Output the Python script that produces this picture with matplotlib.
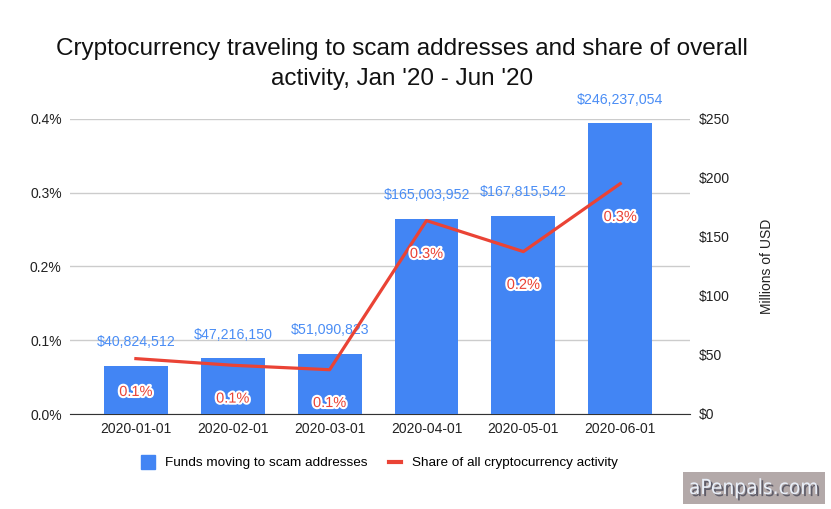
import matplotlib
matplotlib.use("Agg")
import matplotlib.pyplot as plt
import matplotlib.patheffects as pe
from matplotlib.lines import Line2D
from matplotlib import font_manager

categories = ["2020-01-01", "2020-02-01", "2020-03-01", "2020-04-01", "2020-05-01", "2020-06-01"]
funds_usd = [40824512, 47216150, 51090823, 165003952, 167815542, 246237054]
share_pct = [0.075, 0.066, 0.060, 0.262, 0.220, 0.312]
share_labels = ["0.1%", "0.1%", "0.1%", "0.3%", "0.2%", "0.3%"]
left_ticks = [0.0, 0.1, 0.2, 0.3, 0.4]
right_ticks = [0, 50, 100, 150, 200, 250]

title = "Cryptocurrency traveling to scam addresses and share of overall\nactivity, Jan '20 - Jun '20"

names = {f.name for f in font_manager.fontManager.ttflist}
title_font = "Liberation Sans Narrow" if "Liberation Sans Narrow" in names else "Liberation Sans"
plt.rcParams['font.family'] = ['Liberation Sans', 'DejaVu Sans']

BLUE = "#4285F4"
RED = "#EA4335"
LBLUE = "#4a8df5"

fig = plt.figure(figsize=(8.31, 5.09), dpi=100)
ax = fig.add_axes([70/831, 1-414/509, 620/831, (414-118.7)/509])
ax2 = ax.twinx()

x = list(range(len(categories)))
funds_m = [v/1e6 for v in funds_usd]
XL = (-0.68, 5.72)

# bars on right axis (millions)
ax2.bar(x, funds_m, width=0.66, color=BLUE, zorder=2)
ax2.set_ylim(0, 250)
ax2.set_yticks(right_ticks)
ax2.set_yticklabels([f"${t}" for t in right_ticks], fontsize=10, color="#222222")
ax2.set_ylabel("Millions of USD", fontsize=10, color="#222222", labelpad=22)
for xi, v, vm in zip(x, funds_usd, funds_m):
    ax2.annotate(f"${v:,}", (xi, vm), xytext=(0, 17), textcoords="offset points",
                 ha="center", va="center", fontsize=10.2, color=LBLUE, zorder=5)

# gridlines on left axis
ax.set_ylim(0, 0.4)
ax.set_yticks(left_ticks)
ax.set_yticklabels([f"{t:.1f}%" for t in left_ticks], fontsize=10, color="#222222")
ax.grid(axis="y", color="#cccccc", linewidth=1)
ax.set_axisbelow(True)
ax.set_xlim(*XL)
ax.set_xticks(x)
ax.set_xticklabels(categories, fontsize=10, color="#222222")
ax.tick_params(length=0, pad=6)
ax2.tick_params(length=0, pad=6)

# line on an overlay axis sharing the left scale so it sits above bars
ax3 = ax.twinx()
ax3.set_ylim(0, 0.4)
ax3.axis("off")
ax3.plot(x, share_pct, color=RED, linewidth=2.3, zorder=4)
for xi, v, lab in zip(x, share_pct, share_labels):
    ax3.annotate(lab, (xi, v), xytext=(0, -24), textcoords="offset points",
                 ha="center", va="center", fontsize=10.5, color=RED, zorder=6,
                 path_effects=[pe.withStroke(linewidth=3, foreground="white")])
ax3.set_xlim(*XL)
ax2.set_xlim(*XL)

for a in (ax, ax2, ax3):
    for s in ("top", "left", "right"):
        a.spines[s].set_visible(False)
ax.spines["bottom"].set_color("#333333")
ax2.spines["bottom"].set_visible(False)
ax3.spines["bottom"].set_visible(False)

fig.text(402/831, 1-64/509, title, ha="center", va="center", fontsize=17.5,
         family=[title_font, 'DejaVu Sans'], color="#111111", linespacing=1.5)

handles = [Line2D([0], [0], marker="s", linestyle="none", markersize=9.5, color=BLUE),
           Line2D([0], [0], color=RED, linewidth=3)]
fig.legend(handles, ["Funds moving to scam addresses", "Share of all cryptocurrency activity"],
           loc="center", bbox_to_anchor=(380/831, 1-463/509), ncol=2, frameon=False,
           fontsize=9.7, handlelength=0.9, columnspacing=1.6, handletextpad=0.8)

fig.text(754/831, 1-488/509, "aPenpals.com", ha="center", va="center", fontsize=15,
         color="#e8eef8", family=["DejaVu Sans"], fontstretch="condensed",
         bbox=dict(boxstyle="square,pad=0.3", facecolor="#b3a9a9", edgecolor="none"),
         path_effects=[pe.withSimplePatchShadow(offset=(1.5, -1.5), shadow_rgbFace="#4a4a5a", alpha=0.8)])

fig.savefig("out.png", dpi=100)
